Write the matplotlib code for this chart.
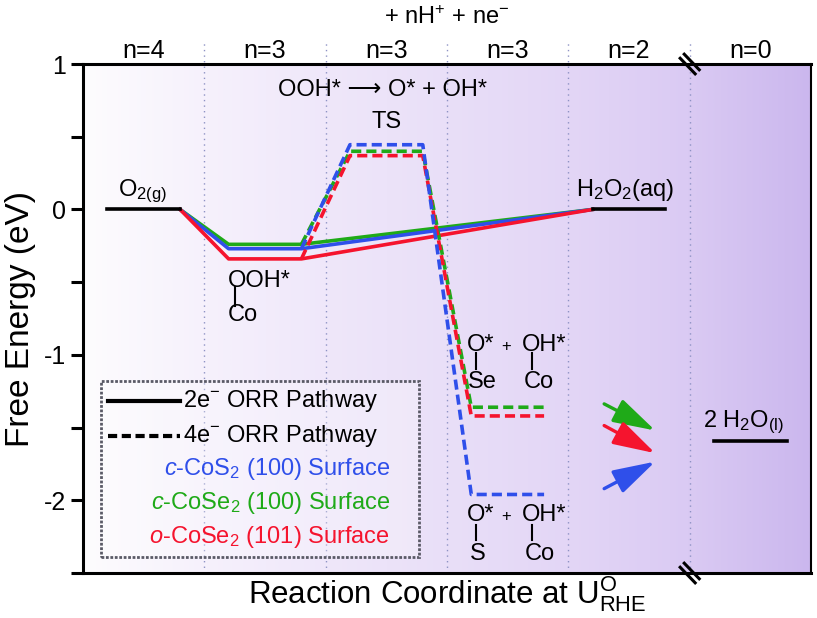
import numpy as np
import matplotlib
matplotlib.use('Agg')
import matplotlib.pyplot as plt
from matplotlib.colors import LinearSegmentedColormap

plt.rcParams['font.family'] = ['Liberation Sans', 'DejaVu Sans']
plt.rcParams['mathtext.fontset'] = 'custom'
plt.rcParams['mathtext.rm'] = 'Liberation Sans'
plt.rcParams['mathtext.it'] = 'Liberation Sans:italic'
plt.rcParams['mathtext.bf'] = 'Liberation Sans:bold'
plt.rcParams['axes.unicode_minus'] = False

# states along the reaction coordinate (one column each)
n_labels = ['n=4', 'n=3', 'n=3', 'n=3', 'n=2', 'n=0']
half_w = 0.3

# free energies (eV): OOH*, TS, O*+OH*
surfaces = ['c-CoS2', 'c-CoSe2', 'o-CoSe2']
colors = ['#2F4FEA', '#1FAA18', '#F5142E']
e_ooh = [-0.27, -0.24, -0.34]
e_ts = [0.445, 0.40, 0.37]
e_o_oh = [-1.96, -1.36, -1.42]
e_o2 = 0.0
e_h2o2 = 0.0
e_h2o_shown = -1.59

legend_labels = [r'$\mathit{c}$-CoS$_2$ (100) Surface',
                 r'$\mathit{c}$-CoSe$_2$ (100) Surface',
                 r'$\mathit{o}$-CoSe$_2$ (101) Surface']

# arrows pointing to 2 H2O (start y, end y)
arrow_start = [-1.92, -1.337, -1.486]
arrow_end = [-1.734, -1.52, -1.676]

fig = plt.figure(figsize=(8.17, 6.18), dpi=100)
ax = fig.add_axes([0.1016, 0.0728, 0.8911, 0.8236])
ax.set_xlim(0, 6)
ax.set_ylim(-2.5, 1)

# background gradient
bg = LinearSegmentedColormap.from_list('bg', ['#FDFCFE', '#F6F1FC', '#EFE7FA', '#E9DFF8',
                                              '#E3D6F6', '#DACAF3', '#CBB7EE'])
grad = np.linspace(0, 1, 400).reshape(1, -1)
ax.imshow(grad, cmap=bg, extent=(0, 6, -2.5, 1), aspect='auto', zorder=0)

# dotted separators
for xs in range(1, 6):
    ax.plot([xs, xs], [0, 1.047], transform=ax.get_xaxis_transform(), color='#8E92C4',
            lw=1, ls=(0, (1, 3)), clip_on=False, zorder=1)

c = np.arange(6) + 0.5
lw = 2.6

# 2e- pathway (solid)
for i in [0, 1, 2]:
    xs = [c[0] + half_w, c[1] - half_w, c[1] + half_w, c[4] - half_w]
    ys = [e_o2, e_ooh[i], e_ooh[i], e_h2o2]
    ax.plot(xs, ys, color=colors[i], lw=lw, zorder=3 if i != 1 else 2.5)
ax.plot([c[0] - half_w, c[0] + half_w], [e_o2, e_o2], color='k', lw=lw, zorder=4)
ax.plot([c[4] - half_w, c[4] + half_w], [e_h2o2, e_h2o2], color='k', lw=lw, zorder=4)
ax.plot([c[5] - half_w, c[5] + half_w], [e_h2o_shown, e_h2o_shown], color='k', lw=lw, zorder=4)

# 4e- pathway (dashed)
for i in [1, 2, 0]:
    xs = [c[1] + half_w, c[2] - half_w, c[2] + half_w, c[3] - half_w, c[3] + half_w]
    ys = [e_ooh[i], e_ts[i], e_ts[i], e_o_oh[i], e_o_oh[i]]
    ax.plot(xs, ys, color=colors[i], lw=lw, dashes=(2.8, 1.4), zorder=5)

# arrows toward the 2 H2O level
for i in range(3):
    ax.annotate('', xy=(4.716, arrow_end[i]), xytext=(4.295, arrow_start[i]),
                arrowprops=dict(arrowstyle='-|>,head_length=1.3,head_width=0.38',
                                mutation_scale=20, color=colors[i], lw=2.4,
                                shrinkA=0, shrinkB=0), zorder=5)

fs = 17
ax.text(0.29, 0.09, r'O$_{\mathrm{2(g)}}$', fontsize=fs, va='baseline', zorder=6)
ax.text(4.06, 0.09, r'H$_2$O$_2$(aq)', fontsize=fs, va='baseline', zorder=6)
ax.text(5.11, -1.50, r'2 H$_2$O$_{\mathrm{(l)}}$', fontsize=fs, va='baseline', zorder=6)
ax.text(2.47, 0.82, 'OOH* \u27f6 O* + OH*', fontsize=fs, ha='center', va='center', zorder=6)
ax.text(2.5, 0.60, 'TS', fontsize=fs, ha='center', va='center', zorder=6)

# OOH* on Co
ax.text(1.19, -0.53, 'OOH*', fontsize=fs, va='baseline', zorder=6)
ax.text(1.19, -0.77, 'Co', fontsize=fs, va='baseline', zorder=6)
ax.plot([1.25, 1.25], [-0.53, -0.665], color='k', lw=1.5, zorder=6)

# O* on Se + OH* on Co
ax.text(3.16, -0.97, 'O*', fontsize=fs, va='baseline', zorder=6)
ax.text(3.45, -0.97, '+', fontsize=12, va='baseline', zorder=6)
ax.text(3.62, -0.97, 'OH*', fontsize=fs, va='baseline', zorder=6)
ax.text(3.17, -1.23, 'Se', fontsize=fs, va='baseline', zorder=6)
ax.text(3.63, -1.23, 'Co', fontsize=fs, va='baseline', zorder=6)
ax.plot([3.24, 3.24], [-0.99, -1.10], color='k', lw=1.5, zorder=6)
ax.plot([3.70, 3.70], [-0.99, -1.10], color='k', lw=1.5, zorder=6)

# O* on S + OH* on Co
ax.text(3.16, -2.14, 'O*', fontsize=fs, va='baseline', zorder=6)
ax.text(3.45, -2.14, '+', fontsize=12, va='baseline', zorder=6)
ax.text(3.62, -2.14, 'OH*', fontsize=fs, va='baseline', zorder=6)
ax.text(3.19, -2.41, 'S', fontsize=fs, va='baseline', zorder=6)
ax.text(3.64, -2.41, 'Co', fontsize=fs, va='baseline', zorder=6)
ax.plot([3.24, 3.24], [-2.17, -2.27], color='k', lw=1.5, zorder=6)
ax.plot([3.70, 3.70], [-2.17, -2.27], color='k', lw=1.5, zorder=6)

# n labels and top annotation
for i, lab in enumerate(n_labels):
    ax.text(c[i], 1.011, lab, fontsize=18, ha='center', va='baseline',
            transform=ax.get_xaxis_transform())
ax.text(0.5, 1.092, r'+ nH$^{+}$ + ne$^{-}$', fontsize=17, ha='center', va='center',
        transform=ax.transAxes)

# legend box, drawn by hand
ax.add_patch(plt.Rectangle((0.0247, 0.0314), 0.4368, 0.3456, transform=ax.transAxes,
                           facecolor='white', alpha=0.25, zorder=6))
ax.add_patch(plt.Rectangle((0.0247, 0.0314), 0.4368, 0.3456, transform=ax.transAxes,
                           facecolor='none', edgecolor='#5A5A66', lw=2,
                           ls=(0, (1, 0.6)), zorder=7))
ax.plot([0.0343, 0.133], [0.338, 0.338], color='k', lw=3, transform=ax.transAxes, zorder=7)
ax.plot([0.0343, 0.133], [0.269, 0.269], color='k', lw=3, dashes=(2.2, 1.1),
        transform=ax.transAxes, zorder=7)
ax.text(0.137, 0.338, r'2e$^{-}$ ORR Pathway', fontsize=17, va='center',
        transform=ax.transAxes, zorder=7)
ax.text(0.137, 0.269, r'4e$^{-}$ ORR Pathway', fontsize=17, va='center',
        transform=ax.transAxes, zorder=7)
for i, ly in enumerate([0.204, 0.1375, 0.0707]):
    ax.text(0.422, ly, legend_labels[i], fontsize=17, color=colors[i], ha='right',
            va='center', transform=ax.transAxes, zorder=7)

# axis break marks at x = 5
bx = 5 / 6
for yb in (0, 1):
    for off in (-1, 1):
        ox = off * 0.0028
        oy = off * 0.0040
        ax.plot([bx - 0.0103 + ox, bx + 0.0103 + ox], [yb + 0.0153 + oy, yb - 0.0153 + oy],
                color='k', lw=2.2, transform=ax.transAxes, clip_on=False, zorder=9)

# spines and ticks
for s in ['left', 'top', 'bottom']:
    ax.spines[s].set_linewidth(2.2)
ax.spines['right'].set_linewidth(1.5)
ax.set_xticks([])
ax.set_yticks([-2, -1, 0, 1])
ax.set_yticks([-2.5, -1.5, -0.5, 0.5], minor=True)
ax.tick_params(axis='y', which='both', direction='out', length=8.5, width=2.2, labelsize=18)

ax.set_ylabel('Free Energy (eV)', fontsize=24, labelpad=6)
ax.set_xlabel(r'Reaction Coordinate at U$^{\mathrm{O}}_{\mathrm{RHE}}$', fontsize=22.5,
              labelpad=1)

fig.savefig('out.png', dpi=100)
